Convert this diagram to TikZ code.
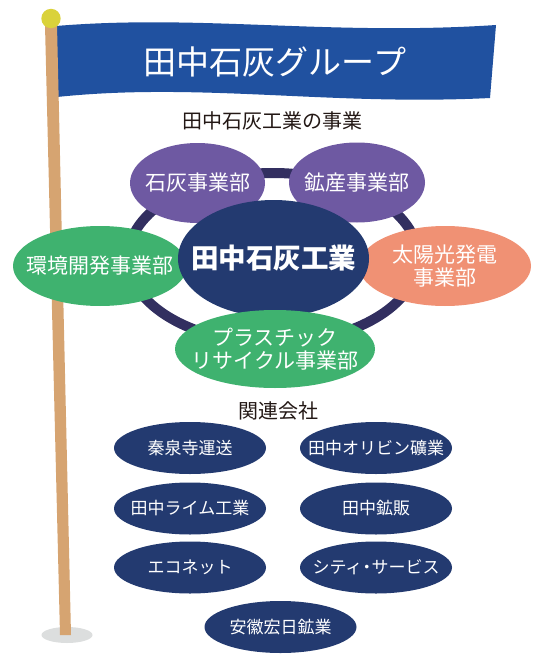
\documentclass[tikz,border=0pt]{standalone}
\usepackage{fontspec}
\setmainfont{Noto Sans CJK JP}
\newfontfamily\jp{Noto Sans CJK JP}
\usetikzlibrary{shapes.geometric}
\definecolor{flagblue}{HTML}{2051A0}
\definecolor{ballyel}{HTML}{DAD23A}
\definecolor{polecol}{HTML}{D6A471}
\definecolor{shadowc}{HTML}{DCDEDE}
\definecolor{ringc}{HTML}{322F60}
\definecolor{navy}{HTML}{233A70}
\definecolor{purp}{HTML}{6E59A2}
\definecolor{grn}{HTML}{3FB26F}
\definecolor{salmon}{HTML}{F09174}
\definecolor{ink}{HTML}{231815}
\tikzset{
  oval/.style={ellipse, inner sep=0pt, draw=none},
  divbox/.style={oval, minimum width=136pt, minimum height=80pt},
  compbox/.style={oval, fill=navy, minimum width=152pt, minimum height=52pt},
  divtext/.style={text=white, inner sep=0pt, align=center, font=\jp\fontsize{21}{23}\selectfont},
  comptext/.style={text=white, inner sep=0pt, font=\jp\fontsize{17}{20}\selectfont},
  heading/.style={text=ink, inner sep=0pt, font=\jp\fontsize{20}{24}\selectfont}
}
\begin{document}
\begin{tikzpicture}[x=1pt,y=-1pt]
\useasboundingbox (0,0) rectangle (544,666);
% flag
\fill[flagblue] (56,26) .. controls (200,14) and (330,36) .. (496,25)
  -- (490,98) .. controls (330,106) and (200,82) .. (57,97) -- cycle;
\node[text=white, inner sep=0pt, font=\jp\fontsize{33}{36}\selectfont] (title) at (275,62) {田中石灰グループ};
% pole
\fill[shadowc] (67,635) ellipse [x radius=25.5pt, y radius=8pt];
\fill[polecol] (45,25) -- (57,25) -- (71,635) -- (60,635) -- cycle;
\fill[ballyel] (51,18.5) circle [radius=9.7pt];
% headings
\node[heading] (bizhead) at (272,121) {田中石灰工業の事業};
\node[heading] (relhead) at (278,411) {関連会社};
% ring
\draw[ringc, line width=10pt] (273,258) ellipse [x radius=145pt, y radius=85pt];
% divisions
\node[divbox, fill=purp, minimum width=135pt] (lime) at (197.5,183) {};
\node[divtext] (limet) at (lime.center) {石灰事業部};
\node[divbox, fill=purp] (mine) at (357,182.5) {};
\node[divtext] (minet) at (mine.center) {鉱産事業部};
\node[divbox, fill=grn, minimum width=174pt] (env) at (100,266) {};
\node[divtext] (envt) at (env.center) {環境開発事業部};
\node[divbox, fill=salmon, minimum width=172pt] (solar) at (445,266) {};
\node[divtext] (solart) at (solar.center) {太陽光発電\\事業部};
\node[oval, fill=navy, minimum width=191pt, minimum height=117pt] (core) at (273.5,258.5) {};
\node[divtext, font=\jp\bfseries\fontsize{27.5}{30}\selectfont] (coret) at (core.center) {田中石灰工業};
\node[divbox, fill=grn, minimum width=200pt, minimum height=78pt] (plastic) at (275,349) {};
\node[divtext] (plastict) at (plastic.center) {プラスチック\\リサイクル事業部};
% related companies
\node[compbox] (c1) at (190,448) {};
\node[comptext] at (c1.center) {秦泉寺運送};
\node[compbox] (c2) at (376,448) {};
\node[comptext] at (c2.center) {田中オリビン礦業};
\node[compbox] (c3) at (190,508.5) {};
\node[comptext] at (c3.center) {田中ライム工業};
\node[compbox] (c4) at (376,508.5) {};
\node[comptext] at (c4.center) {田中鉱販};
\node[compbox] (c5) at (190,567.5) {};
\node[comptext] at (c5.center) {エコネット};
\node[compbox] (c6) at (376,567.5) {};
\node[comptext] at (c6.center) {シティ\kern-4pt・\kern-4ptサービス};
\node[compbox] (c7) at (280.5,627) {};
\node[comptext] at (c7.center) {安徽宏日鉱業};
\end{tikzpicture}
\end{document}
